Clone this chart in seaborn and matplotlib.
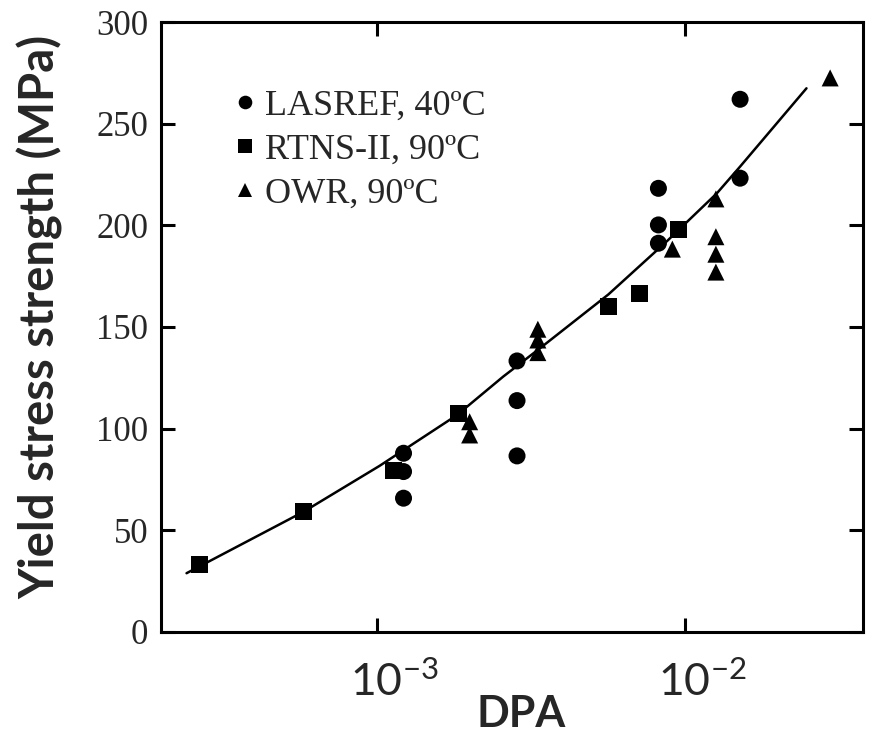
import matplotlib
matplotlib.use("Agg")
import matplotlib.pyplot as plt
import matplotlib.transforms as mtransforms
from matplotlib.ticker import NullLocator, FixedLocator
import seaborn as sns
import pandas as pd

# ---- data ----
lasref_dpa = [1.22e-3, 1.22e-3, 1.22e-3, 2.85e-3, 2.85e-3, 2.85e-3,
              8.2e-3, 8.2e-3, 8.2e-3, 1.51e-2, 1.51e-2]
lasref_ys = [87.9, 78.9, 65.8, 133.3, 113.8, 86.6,
             218.2, 200.2, 191.2, 262.0, 223.2]

rtns_dpa = [2.66e-4, 5.79e-4, 1.13e-3, 1.84e-3, 5.64e-3, 7.1e-3, 9.5e-3]
rtns_ys = [33.0, 59.2, 79.3, 107.6, 160.3, 166.6, 198.1]

owr_dpa = [2.0e-3, 2.0e-3, 3.33e-3, 3.33e-3, 3.33e-3, 9.1e-3,
           1.26e-2, 1.26e-2, 1.26e-2, 1.26e-2, 2.96e-2]
owr_ys = [103.4, 96.9, 148.9, 143.6, 137.4, 188.3,
          213.0, 194.4, 185.8, 177.0, 272.5]

fit_dpa = [2.41e-4, 5.79e-4, 1.02e-3, 1.82e-3, 2.57e-3, 3.38e-3,
           5.64e-3, 8.71e-3, 1.27e-2, 1.51e-2, 2.48e-2]
fit_ys = [28.9, 59.2, 81.7, 106.7, 125.6, 139.5,
          166.0, 192.0, 215.8, 228.9, 267.4]

series_names = ["LASREF, 40ºC", "RTNS-II, 90ºC", "OWR, 90ºC"]
x_tick_values = [1e-3, 1e-2]
x_tick_labels = [r"$\mathregular{10^{-3}}$", r"$\mathregular{10^{-2}}$"]
y_tick_values = [0, 50, 100, 150, 200, 250, 300]

df = pd.DataFrame({
    "dpa": lasref_dpa + rtns_dpa + owr_dpa,
    "ys": lasref_ys + rtns_ys + owr_ys,
    "series": [series_names[0]] * len(lasref_dpa)
              + [series_names[1]] * len(rtns_dpa)
              + [series_names[2]] * len(owr_dpa),
})

sns.set_theme(style="ticks")
plt.rcParams["font.family"] = ["Liberation Serif", "DejaVu Serif"]
plt.rcParams["mathtext.fontset"] = "custom"
plt.rcParams["mathtext.rm"] = "Lato"

fig = plt.figure(figsize=(8.72, 7.34), dpi=100)
ax = fig.add_axes([0.1846, 0.1390, 0.8051, 0.8310])
ax.set_xscale("log")

sns.scatterplot(data=df, x="dpa", y="ys", style="series",
                markers={series_names[0]: "o", series_names[1]: "s",
                         series_names[2]: "^"},
                style_order=series_names, color="black", s=150,
                edgecolor="none", linewidth=0, ax=ax, zorder=3)
sns.lineplot(x=fit_dpa, y=fit_ys, color="black", linewidth=1.8,
             estimator=None, sort=False, ax=ax, zorder=2)

ax.set_xlim(10 ** -3.701, 10 ** -1.422)
ax.set_ylim(0, 300)
ax.xaxis.set_major_locator(FixedLocator(x_tick_values))
ax.xaxis.set_minor_locator(NullLocator())
ax.set_xticklabels(x_tick_labels, fontsize=32, family="Lato")
ax.set_yticks(y_tick_values)
ax.set_yticklabels([str(v) for v in y_tick_values], fontsize=25)

ax.tick_params(axis="both", which="major", direction="in", length=10,
               width=2.2, top=True, right=True, color="black")
ax.tick_params(axis="x", pad=21)
ax.tick_params(axis="y", pad=9)
for lab in ax.get_xticklabels():
    lab.set_transform(lab.get_transform()
                      + mtransforms.ScaledTranslation(17 / 100, 0, fig.dpi_scale_trans))

for sp in ax.spines.values():
    sp.set_linewidth(2.2)
    sp.set_color("black")

ax.set_xlabel("DPA", fontsize=31, fontweight="bold", family="Lato")
ax.xaxis.set_label_coords(0.513, -0.102)
ax.set_ylabel("Yield stress strength (MPa)", fontsize=34, fontweight="bold",
              family="Lato")
ax.yaxis.set_label_coords(-0.139, 0.517)

handles, labels = ax.get_legend_handles_labels()
leg = ax.legend(handles, labels, loc="upper left",
                bbox_to_anchor=(0.073, 0.913), frameon=False,
                prop={"family": "Liberation Serif", "size": 26},
                markerscale=0.8, handletextpad=0.05, labelspacing=0.3,
                borderaxespad=0, handlelength=1.0)

fig.savefig("out.png", dpi=100)
